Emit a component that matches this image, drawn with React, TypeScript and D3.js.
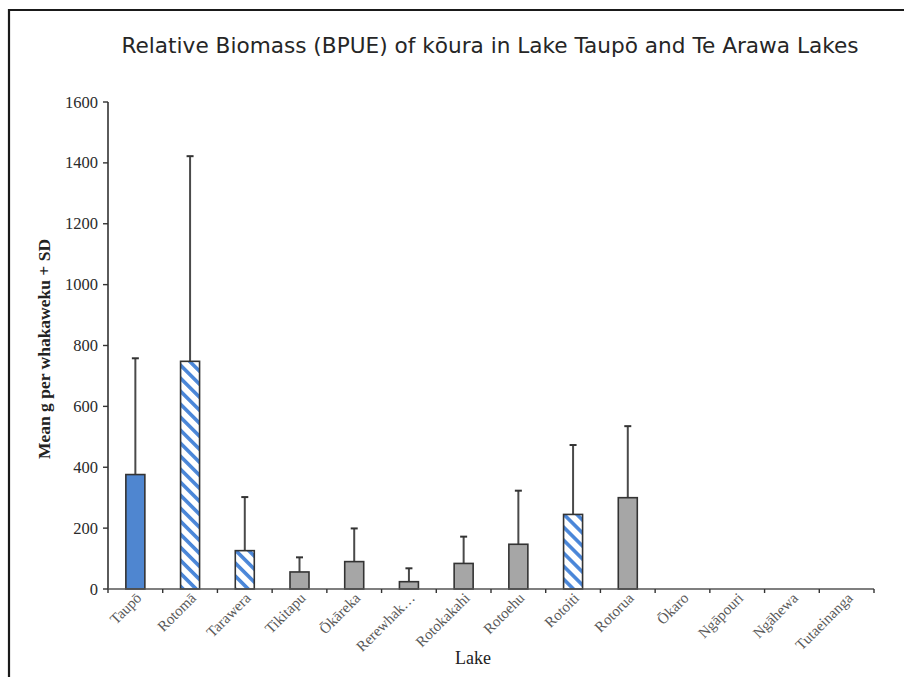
import React from "react";
import * as d3 from "d3";

const lakes = ["Taupō", "Rotomā", "Tarawera", "Tikitapu", "Ōkāreka", "Rerewhak…", "Rotokakahi", "Rotoehu", "Rotoiti", "Rotorua", "Ōkaro", "Ngāpouri", "Ngāhewa", "Tutaeinanga"];
const means = [376, 748, 126, 56, 90, 24, 84, 147, 245, 300, 0, 0, 0, 0];
const upper = [758, 1422, 302, 104, 199, 68, 172, 323, 473, 535, 0, 0, 0, 0];
const styles = ["solid", "hatch", "hatch", "grey", "grey", "grey", "grey", "grey", "hatch", "grey", "grey", "grey", "grey", "grey"];
const yTicks = [0, 200, 400, 600, 800, 1000, 1200, 1400, 1600];

const W = 904, H = 677;
const left = 108, right = 874, top = 102, bottom = 589;

export default function App() {
  const x = d3.scaleBand<string>().domain(lakes).range([left, right]).paddingInner(0).paddingOuter(0);
  const y = d3.scaleLinear().domain([0, 1600]).range([bottom, top]);
  const bw = 19;
  const fillFor = (s: string) => (s === "solid" ? "#4F86D0" : s === "hatch" ? "url(#hatch)" : "#A6A6A6");
  const bounds = d3.range(lakes.length + 1).map((i) => left + i * x.bandwidth());
  return (
    <div style={{ position: "absolute", left: 0, top: 0 }}>
      <svg width={W} height={H} style={{ display: "block", background: "#fff" }}>
        <defs>
          <pattern id="hatch" patternUnits="userSpaceOnUse" width="9.2" height="9.2" patternTransform="rotate(45)">
            <rect width="9.2" height="9.2" fill="#fff" />
            <rect width="9.2" height="3.6" fill="#4A86D8" />
          </pattern>
        </defs>
        <path d={`M9,${H + 5} V10 H${W + 5}`} fill="none" stroke="#1a1a1a" strokeWidth={2.2} />
        <text x={490} y={53} textAnchor="middle" fontFamily="DejaVu Sans" fontSize={21.5} fill="#262626" textLength={737} lengthAdjust="spacingAndGlyphs">
          Relative Biomass (BPUE) of kōura in Lake Taupō and Te Arawa Lakes
        </text>
        {/* bars */}
        {lakes.map((l, i) => {
          const cx = (x(l) as number) + x.bandwidth() / 2;
          if (means[i] <= 0) return null;
          return (
            <g key={l}>
              <line x1={cx} x2={cx} y1={y(means[i])} y2={y(upper[i])} stroke="#4a4a4a" strokeWidth={2} />
              <line x1={cx - 3.5} x2={cx + 3.5} y1={y(upper[i])} y2={y(upper[i])} stroke="#333" strokeWidth={2} />
              <rect x={cx - bw / 2} y={y(means[i])} width={bw} height={bottom - y(means[i])} fill={fillFor(styles[i])} stroke="#333" strokeWidth={1.6} />
            </g>
          );
        })}
        {/* y axis */}
        <line x1={left} x2={left} y1={top} y2={bottom} stroke="#333" strokeWidth={1.6} />
        {yTicks.map((t) => (
          <g key={t}>
            <line x1={left - 5} x2={left} y1={y(t)} y2={y(t)} stroke="#333" strokeWidth={1.4} />
            <text x={left - 10} y={y(t) + 5.5} textAnchor="end" fontFamily="Liberation Serif" fontSize={16.5} fill="#2a2a2a">
              {t}
            </text>
          </g>
        ))}
        {/* x axis */}
        <line x1={left} x2={right} y1={bottom} y2={bottom} stroke="#555" strokeWidth={1.6} />
        {bounds.map((b, i) => (
          <line key={i} x1={b} x2={b} y1={bottom} y2={bottom + 4} stroke="#333" strokeWidth={1.4} />
        ))}
        {lakes.map((l) => {
          const cx = (x(l) as number) + x.bandwidth() / 2;
          return (
            <text key={l} transform={`translate(${cx + 7},${bottom + 10}) rotate(-45)`} textAnchor="end" fontFamily="Liberation Serif" fontSize={15} fill="#595959">
              {l}
            </text>
          );
        })}
        <text x={473} y={664} textAnchor="middle" fontFamily="Liberation Serif" fontSize={18} fill="#222">
          Lake
        </text>
        <text transform={`translate(50,349) rotate(-90)`} textAnchor="middle" fontFamily="Liberation Serif" fontWeight="bold" fontSize={17.5} fill="#222">
          Mean g per whakaweku + SD
        </text>
      </svg>
    </div>
  );
}
